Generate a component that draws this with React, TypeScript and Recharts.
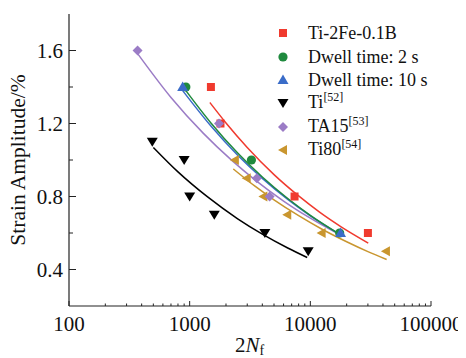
import React from 'react';
import { ScatterChart, Scatter, XAxis, YAxis, Legend } from 'recharts';

// ---- measured points ----
const ti2feX = [1500, 1800, 7400, 30000];
const ti2feY = [1.4, 1.2, 0.8, 0.6];
const dwell2X = [930, 3250, 17500];
const dwell2Y = [1.4, 1.0, 0.6];
const dwell10X = [875, 17800];
const dwell10Y = [1.4, 0.6];
const tiX = [490, 900, 1000, 1600, 4200, 9600];
const tiY = [1.1, 1.0, 0.8, 0.7, 0.6, 0.5];
const ta15X = [370, 1750, 3600, 4600];
const ta15Y = [1.6, 1.2, 0.9, 0.8];
const ti80X = [2370, 2970, 4080, 6440, 12400, 42300];
const ti80Y = [1.0, 0.9, 0.8, 0.7, 0.6, 0.5];

// ---- fitted curves ----
const fitRedX = [1470, 2000, 3000, 5000, 8000, 12000, 18000, 30200];
const fitRedY = [1.315, 1.203, 1.069, 0.92, 0.803, 0.713, 0.634, 0.545];
const fitGreenX = [930, 1500, 2500, 4000, 6500, 10000, 18150];
const fitGreenY = [1.38, 1.203, 1.038, 0.907, 0.789, 0.697, 0.587];
const fitBlueX = [875, 1500, 2500, 4000, 6500, 10000, 17800];
const fitBlueY = [1.38, 1.186, 1.026, 0.899, 0.784, 0.694, 0.59];
const fitBlackX = [500, 800, 1400, 2500, 4000, 6500, 9420];
const fitBlackY = [1.069, 0.935, 0.799, 0.678, 0.594, 0.518, 0.466];
const fitPurpleX = [364, 700, 1300, 2200, 3540, 6000, 10000, 17000];
const fitPurpleY = [1.59, 1.343, 1.146, 1.002, 0.887, 0.775, 0.681, 0.595];
const fitGoldX = [2300, 3500, 5000, 8000, 12400, 20000, 30000, 42900];
const fitGoldY = [0.951, 0.855, 0.782, 0.695, 0.622, 0.552, 0.498, 0.455];

const xMajor = [100, 1000, 10000, 100000];
const xTicks = [100, 200, 300, 400, 500, 600, 700, 800, 900, 1000, 2000, 3000, 4000, 5000, 6000, 7000, 8000, 9000, 10000, 20000, 30000, 40000, 50000, 60000, 70000, 80000, 90000, 100000];
const yMajor = [0.4, 0.8, 1.2, 1.6];
const yTicks = [0.4, 0.6, 0.8, 1.0, 1.2, 1.4, 1.6];

const zip = (xs: number[], ys: number[]) => xs.map((x, i) => ({ x, y: ys[i] }));

const RED = '#f03a2e';
const GREEN = '#1f8a3e';
const BLUE = '#3a6cc8';
const BLACK = '#000000';
const PURPLE = '#9b7cc6';
const GOLD = '#c9962f';
const FONT = '"Liberation Serif", "Times New Roman", serif';

const mk = (kind: string, color: string, cx: number, cy: number) => {
  switch (kind) {
    case 'square':
      return <rect x={cx - 4} y={cy - 4} width={8} height={8} fill={color} />;
    case 'circle':
      return <circle cx={cx} cy={cy} r={4.6} fill={color} />;
    case 'up':
      return <polygon points={`${cx},${cy - 5.5} ${cx + 5.5},${cy + 4} ${cx - 5.5},${cy + 4}`} fill={color} />;
    case 'down':
      return <polygon points={`${cx - 5.5},${cy - 4} ${cx + 5.5},${cy - 4} ${cx},${cy + 5}`} fill={color} />;
    case 'diamond':
      return <polygon points={`${cx},${cy - 5} ${cx + 5},${cy} ${cx},${cy + 5} ${cx - 5},${cy}`} fill={color} />;
    case 'left':
      return <polygon points={`${cx - 5},${cy} ${cx + 4},${cy - 5} ${cx + 4},${cy + 5}`} fill={color} />;
    default:
      return <g />;
  }
};

const shapeOf = (kind: string, color: string) => (p: any) => mk(kind, color, p.cx, p.cy);
const noShape = () => <g />;

const XTick = (props: any) => {
  const { x, y, payload } = props;
  const v = payload.value;
  const major = xMajor.includes(v);
  return (
    <g>
      <line x1={x} x2={x} y1={y} y2={y - (major ? 5 : 2.5)} stroke="#222" strokeWidth={1} />
      {major && (
        <text x={x} y={y + 25} textAnchor="middle" fontFamily={FONT} fontSize={21} fill="#111">
          {v}
        </text>
      )}
    </g>
  );
};

const YTick = (props: any) => {
  const { x, y, payload } = props;
  const v = payload.value;
  const major = yMajor.some((m) => Math.abs(m - v) < 1e-6);
  return (
    <g>
      <line x1={x} x2={x + (major ? 7 : 4)} y1={y} y2={y} stroke="#222" strokeWidth={1} />
      {major && (
        <text x={x - 6} y={y + 7} textAnchor="end" fontFamily={FONT} fontSize={21} fill="#111">
          {v.toFixed(1)}
        </text>
      )}
    </g>
  );
};

const legendItems = [
  { kind: 'square', color: RED, label: 'Ti-2Fe-0.1B', sup: '' },
  { kind: 'circle', color: GREEN, label: 'Dwell time: 2 s', sup: '' },
  { kind: 'up', color: BLUE, label: 'Dwell time: 10 s', sup: '' },
  { kind: 'down', color: BLACK, label: 'Ti', sup: '[52]' },
  { kind: 'diamond', color: PURPLE, label: 'TA15', sup: '[53]' },
  { kind: 'left', color: GOLD, label: 'Ti80', sup: '[54]' },
];

const renderLegend = () => (
  <div style={{ fontFamily: FONT, fontSize: 18, color: '#111' }}>
    {legendItems.map((it) => (
      <div key={it.label} style={{ height: 23.4, display: 'flex', alignItems: 'center', whiteSpace: 'nowrap' }}>
        <svg width={20} height={20} style={{ display: 'block' }}>
          {mk(it.kind, it.color, 10, 10)}
        </svg>
        <span style={{ marginLeft: 15, lineHeight: '20px' }}>
          {it.label}
          {it.sup && <span style={{ fontSize: 12, position: 'relative', top: -7 }}>{it.sup}</span>}
        </span>
      </div>
    ))}
  </div>
);

const XLabel = (props: any) => {
  const vb = props.viewBox;
  const cx = vb.x + vb.width / 2;
  return (
    <text x={cx - 15} y={vb.y + 46} fontFamily={FONT} fontSize={21} fill="#111">
      <tspan>2</tspan>
      <tspan fontStyle="italic">N</tspan>
      <tspan fontSize={14} dy={3}>f</tspan>
    </text>
  );
};

const YLabel = () => (
  <text x={18} y={160} transform="rotate(-90 18 160)" textAnchor="middle" dominantBaseline="central" fontFamily={FONT} fontSize={21.5} fill="#111">
    Strain Amplitude/%
  </text>
);

export default function App() {
  return (
    <div style={{ marginTop: -8, marginLeft: -8, width: 466, height: 358 }}>
      <ScatterChart width={466} height={358} margin={{ top: 14, right: 35, bottom: 0, left: 8 }}>
        <XAxis
          xAxisId="main"
          type="number"
          dataKey="x"
          scale="log"
          domain={[100, 100000]}
          allowDataOverflow
          ticks={xTicks}
          interval={0}
          tickSize={0}
          tickMargin={0}
          tickLine={false}
          tick={XTick}
          height={52}
          axisLine={{ stroke: '#222', strokeWidth: 1.2 }}
          label={{ content: XLabel }}
        />
        <XAxis xAxisId="top" orientation="top" type="number" dataKey="x" scale="log" domain={[100, 100000]} allowDataOverflow height={0} tick={false} tickLine={false} axisLine={{ stroke: '#222', strokeWidth: 1.2 }} />
        <YAxis
          yAxisId="main"
          type="number"
          dataKey="y"
          domain={[0.2, 1.8]}
          allowDataOverflow
          ticks={yTicks}
          interval={0}
          tickSize={0}
          tickMargin={0}
          tickLine={false}
          tick={YTick}
          width={61}
          axisLine={{ stroke: '#222', strokeWidth: 1.2 }}
          label={{ content: YLabel }}
        />
        <YAxis yAxisId="right" orientation="right" type="number" dataKey="y" domain={[0.2, 1.8]} allowDataOverflow width={0} tick={false} tickLine={false} axisLine={{ stroke: '#222', strokeWidth: 1.2 }} />
        <Legend layout="vertical" align="center" verticalAlign="middle" content={renderLegend} wrapperStyle={{ position: 'absolute', left: 273, top: 21.5, width: 190, height: 145 }} />

        <Scatter xAxisId="main" yAxisId="main" data={zip(fitRedX, fitRedY)} line={{ stroke: RED, strokeWidth: 1.5 }} lineJointType="monotoneX" shape={noShape} isAnimationActive={false} legendType="none" />
        <Scatter xAxisId="main" yAxisId="main" data={zip(fitPurpleX, fitPurpleY)} line={{ stroke: PURPLE, strokeWidth: 1.5 }} lineJointType="monotoneX" shape={noShape} isAnimationActive={false} legendType="none" />
        <Scatter xAxisId="main" yAxisId="main" data={zip(fitBlueX, fitBlueY)} line={{ stroke: BLUE, strokeWidth: 1.5 }} lineJointType="monotoneX" shape={noShape} isAnimationActive={false} legendType="none" />
        <Scatter xAxisId="main" yAxisId="main" data={zip(fitGreenX, fitGreenY)} line={{ stroke: GREEN, strokeWidth: 1.5 }} lineJointType="monotoneX" shape={noShape} isAnimationActive={false} legendType="none" />
        <Scatter xAxisId="main" yAxisId="main" data={zip(fitGoldX, fitGoldY)} line={{ stroke: GOLD, strokeWidth: 1.5 }} lineJointType="monotoneX" shape={noShape} isAnimationActive={false} legendType="none" />
        <Scatter xAxisId="main" yAxisId="main" data={zip(fitBlackX, fitBlackY)} line={{ stroke: BLACK, strokeWidth: 1.5 }} lineJointType="monotoneX" shape={noShape} isAnimationActive={false} legendType="none" />

        <Scatter xAxisId="main" yAxisId="main" name="Ti-2Fe-0.1B" data={zip(ti2feX, ti2feY)} shape={shapeOf('square', RED)} isAnimationActive={false} />
        <Scatter xAxisId="main" yAxisId="main" name="Ti" data={zip(tiX, tiY)} shape={shapeOf('down', BLACK)} isAnimationActive={false} />
        <Scatter xAxisId="main" yAxisId="main" name="Ti80" data={zip(ti80X, ti80Y)} shape={shapeOf('left', GOLD)} isAnimationActive={false} />
        <Scatter xAxisId="main" yAxisId="main" name="TA15" data={zip(ta15X, ta15Y)} shape={shapeOf('diamond', PURPLE)} isAnimationActive={false} />
        <Scatter xAxisId="main" yAxisId="main" name="Dwell time: 2 s" data={zip(dwell2X, dwell2Y)} shape={shapeOf('circle', GREEN)} isAnimationActive={false} />
        <Scatter xAxisId="main" yAxisId="main" name="Dwell time: 10 s" data={zip(dwell10X, dwell10Y)} shape={shapeOf('up', BLUE)} isAnimationActive={false} />
      </ScatterChart>
    </div>
  );
}
